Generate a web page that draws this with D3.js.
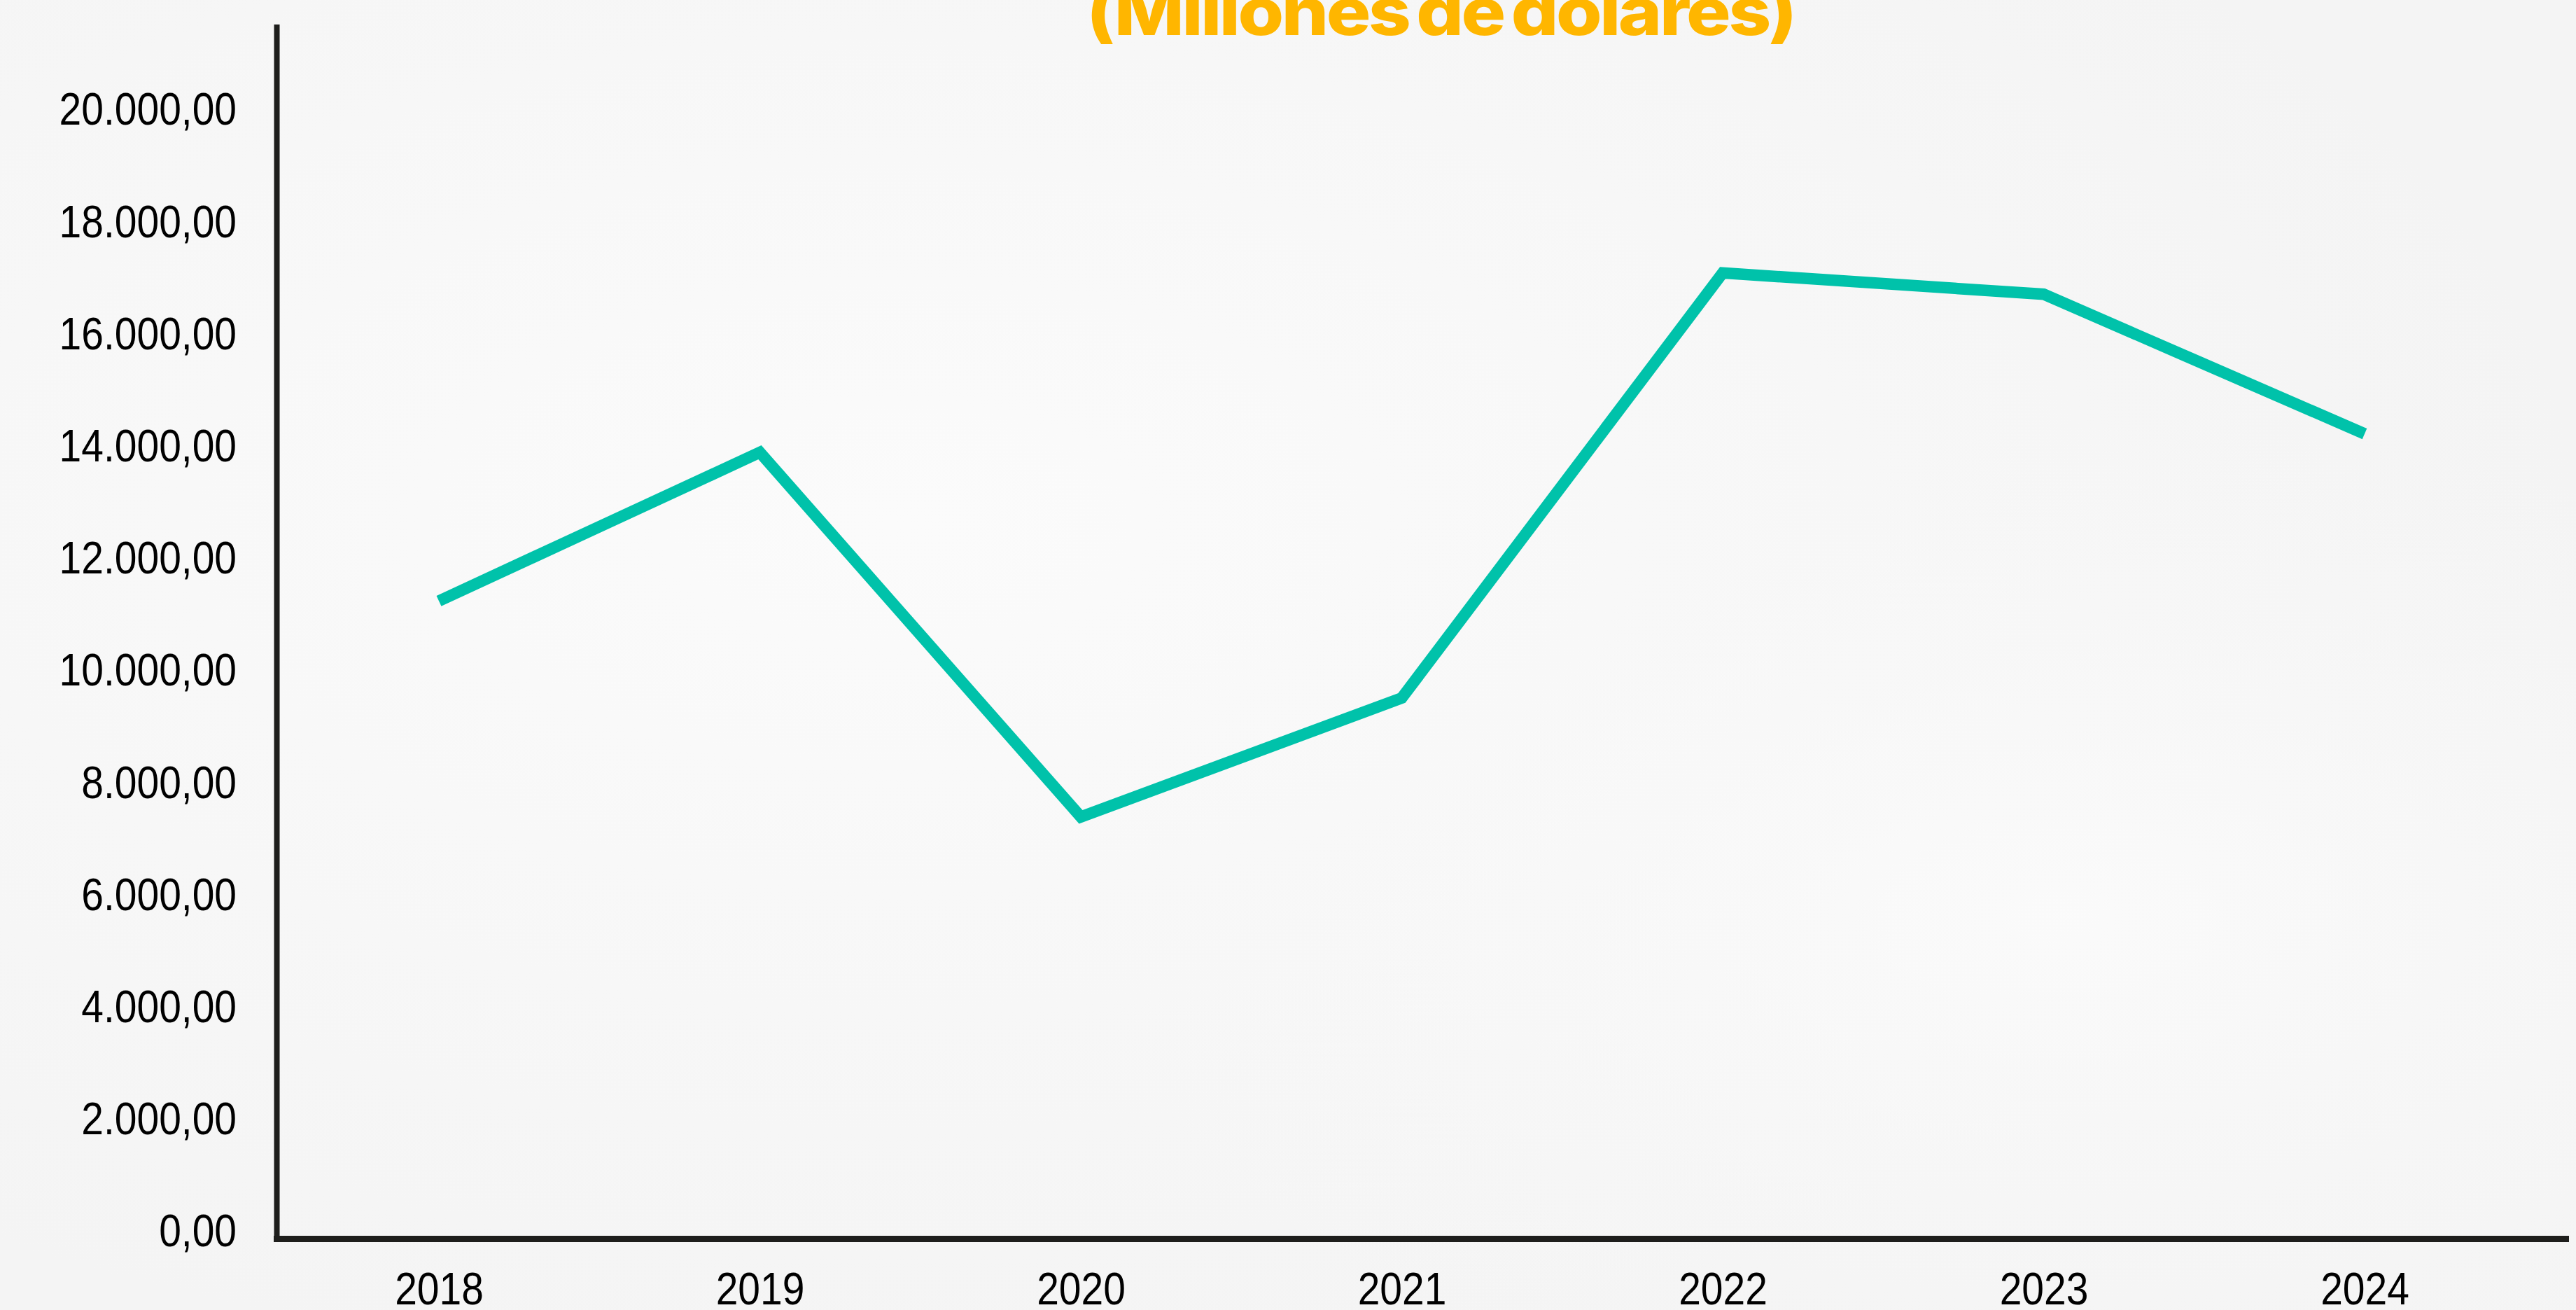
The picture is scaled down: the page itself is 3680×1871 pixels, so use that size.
<!DOCTYPE html>
<html>
<head>
<meta charset="utf-8">
<script src="https://cdn.jsdelivr.net/npm/d3@7"></script>
<style>
  html, body { margin: 0; padding: 0; background: #f7f7f7; }
  svg { display: block; }
</style>
</head>
<body>
<svg id="chart" width="3680" height="1871"></svg>
<script>
// ---- data ----
const years = ["2018", "2019", "2020", "2021", "2022", "2023", "2024"];
const values = [11250, 13900, 7400, 9520, 17100, 16720, 14230];
const yTickValues = [0, 2000, 4000, 6000, 8000, 10000, 12000, 14000, 16000, 18000, 20000];
const titleText = "(Millones de dolares)";

// ---- setup ----
const W = 3680, H = 1871;
const svg = d3.select("#chart");

// background with faint crumpled-paper shading
const defs = svg.append("defs");
const g1 = defs.append("radialGradient").attr("id", "bgA").attr("cx", "35%").attr("cy", "40%").attr("r", "65%");
g1.append("stop").attr("offset", "0%").attr("stop-color", "#fbfbfb");
g1.append("stop").attr("offset", "100%").attr("stop-color", "#f4f4f4");
svg.append("rect").attr("width", W).attr("height", H).attr("fill", "url(#bgA)");
const g2 = defs.append("radialGradient").attr("id", "bgB").attr("cx", "80%").attr("cy", "70%").attr("r", "40%");
g2.append("stop").attr("offset", "0%").attr("stop-color", "#fbfbfb").attr("stop-opacity", 0.9);
g2.append("stop").attr("offset", "100%").attr("stop-color", "#f7f7f7").attr("stop-opacity", 0);
svg.append("rect").attr("width", W).attr("height", H).attr("fill", "url(#bgB)");

// ---- scales ----
const x = d3.scalePoint().domain(years).range([627, 3378]);
const y = d3.scaleLinear().domain([0, 20000]).range([1759.5, 157.5]);

const locale = d3.formatLocale({ decimal: ",", thousands: ".", grouping: [3], currency: ["", ""] });
const fmt = locale.format(",.2f");

// ---- title (partially cut off at the top) ----
svg.append("text")
  .attr("x", 1552)
  .attr("y", 50)
  .attr("textLength", 1012)
  .attr("lengthAdjust", "spacingAndGlyphs")
  .attr("font-family", "Inter, 'Open Sans', sans-serif")
  .attr("font-weight", 800)
  .attr("font-size", 94)
  .attr("letter-spacing", "-3px")
  .attr("word-spacing", "-8px")
  .attr("fill", "#ffb600")
  .text(titleText);

// ---- y axis labels ----
const yAxis = d3.axisLeft(y).tickValues(yTickValues).tickFormat(fmt).tickSize(0).tickPadding(0);
const gy = svg.append("g").attr("transform", "translate(338,0)").call(yAxis);
gy.select(".domain").remove();
gy.selectAll("text")
  .attr("font-family", "'Liberation Sans', Arial, sans-serif")
  .attr("font-size", 64)
  .attr("transform", "scale(0.89,1)")
  .attr("fill", "#000");

// ---- x axis labels ----
const xAxis = d3.axisBottom(x).tickSize(0).tickPadding(48.5);
const gx = svg.append("g").attr("transform", "translate(0,1769)").call(xAxis);
gx.select(".domain").remove();
gx.selectAll("text")
  .attr("font-family", "'Liberation Sans', Arial, sans-serif")
  .attr("font-size", 64)
  .attr("transform", "scale(0.89,1)")
  .attr("fill", "#000");

// ---- axis lines ----
svg.append("line")
  .attr("x1", 395.5).attr("x2", 395.5)
  .attr("y1", 35).attr("y2", 1774)
  .attr("stroke", "#1e1e1c").attr("stroke-width", 8);
svg.append("line")
  .attr("x1", 391).attr("x2", 3670)
  .attr("y1", 1769.5).attr("y2", 1769.5)
  .attr("stroke", "#1e1e1c").attr("stroke-width", 9);

// ---- line ----
const data = years.map((yr, i) => ({ year: yr, value: values[i] }));
const line = d3.line().x(d => x(d.year)).y(d => y(d.value));
svg.append("path")
  .datum(data)
  .attr("d", line)
  .attr("fill", "none")
  .attr("stroke", "#00c2aa")
  .attr("stroke-width", 16.5)
  .attr("stroke-linejoin", "miter")
  .attr("stroke-linecap", "butt");
</script>
</body>
</html>
